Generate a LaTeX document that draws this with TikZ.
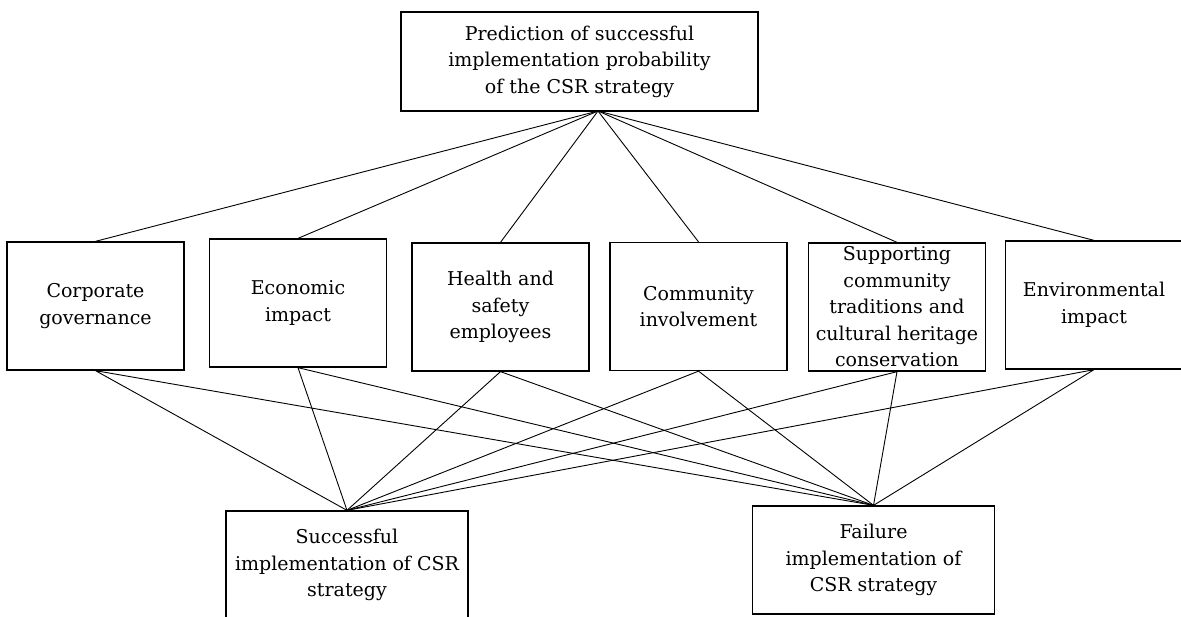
\documentclass[tikz,border=0pt]{standalone}
\usepackage{fontspec}
\setmainfont{DejaVu Serif}
\begin{document}
\begin{tikzpicture}
    [x=1pt,y=-1pt,
     box/.style={draw,line width=1.3pt,align=center,inner sep=0pt,
       font=\fontsize{19}{26.5}\selectfont},
     factor/.style={box,minimum width=177pt,minimum height=128pt},
     outcome/.style={box,minimum width=242pt,minimum height=108pt},
     link/.style={line width=0.9pt}]
    \useasboundingbox (0,0) rectangle (1181,616);

    % goal
    \node[box,minimum width=357pt,minimum height=99pt] (goal) at (579.5,61.5)
      {Prediction of successful\\implementation probability\\of the CSR strategy};
    \coordinate (apex) at (598,111);

    % criteria
    \node[factor] (gov) at (95.5,306) {Corporate\\governance};
    \node[factor] (eco) at (298,303) {Economic\\impact};
    \node[factor] (hse) at (500.5,307) {Health and\\safety\\employees};
    \node[factor] (com) at (698.5,306.5) {Community\\involvement};
    \node[factor] (her) at (897,307)
      {Supporting\\community\\traditions and\\cultural heritage\\conservation};
    \node[factor] (env) at (1094,305) {Environmental\\impact};

    % alternatives
    \node[outcome] (succ) at (347,565) {Successful\\implementation of CSR\\strategy};
    \node[outcome] (fail) at (873.5,560) {Failure\\implementation of\\CSR strategy};

    \draw[link] (apex) -- (gov.north) (gov.south) -- (succ.north) (gov.south) -- (fail.north);
    \draw[link] (apex) -- (eco.north) (eco.south) -- (succ.north) (eco.south) -- (fail.north);
    \draw[link] (apex) -- (hse.north) (hse.south) -- (succ.north) (hse.south) -- (fail.north);
    \draw[link] (apex) -- (com.north) (com.south) -- (succ.north) (com.south) -- (fail.north);
    \draw[link] (apex) -- (her.north) (her.south) -- (succ.north) (her.south) -- (fail.north);
    \draw[link] (apex) -- (env.north) (env.south) -- (succ.north) (env.south) -- (fail.north);
  \end{tikzpicture}
\end{document}
